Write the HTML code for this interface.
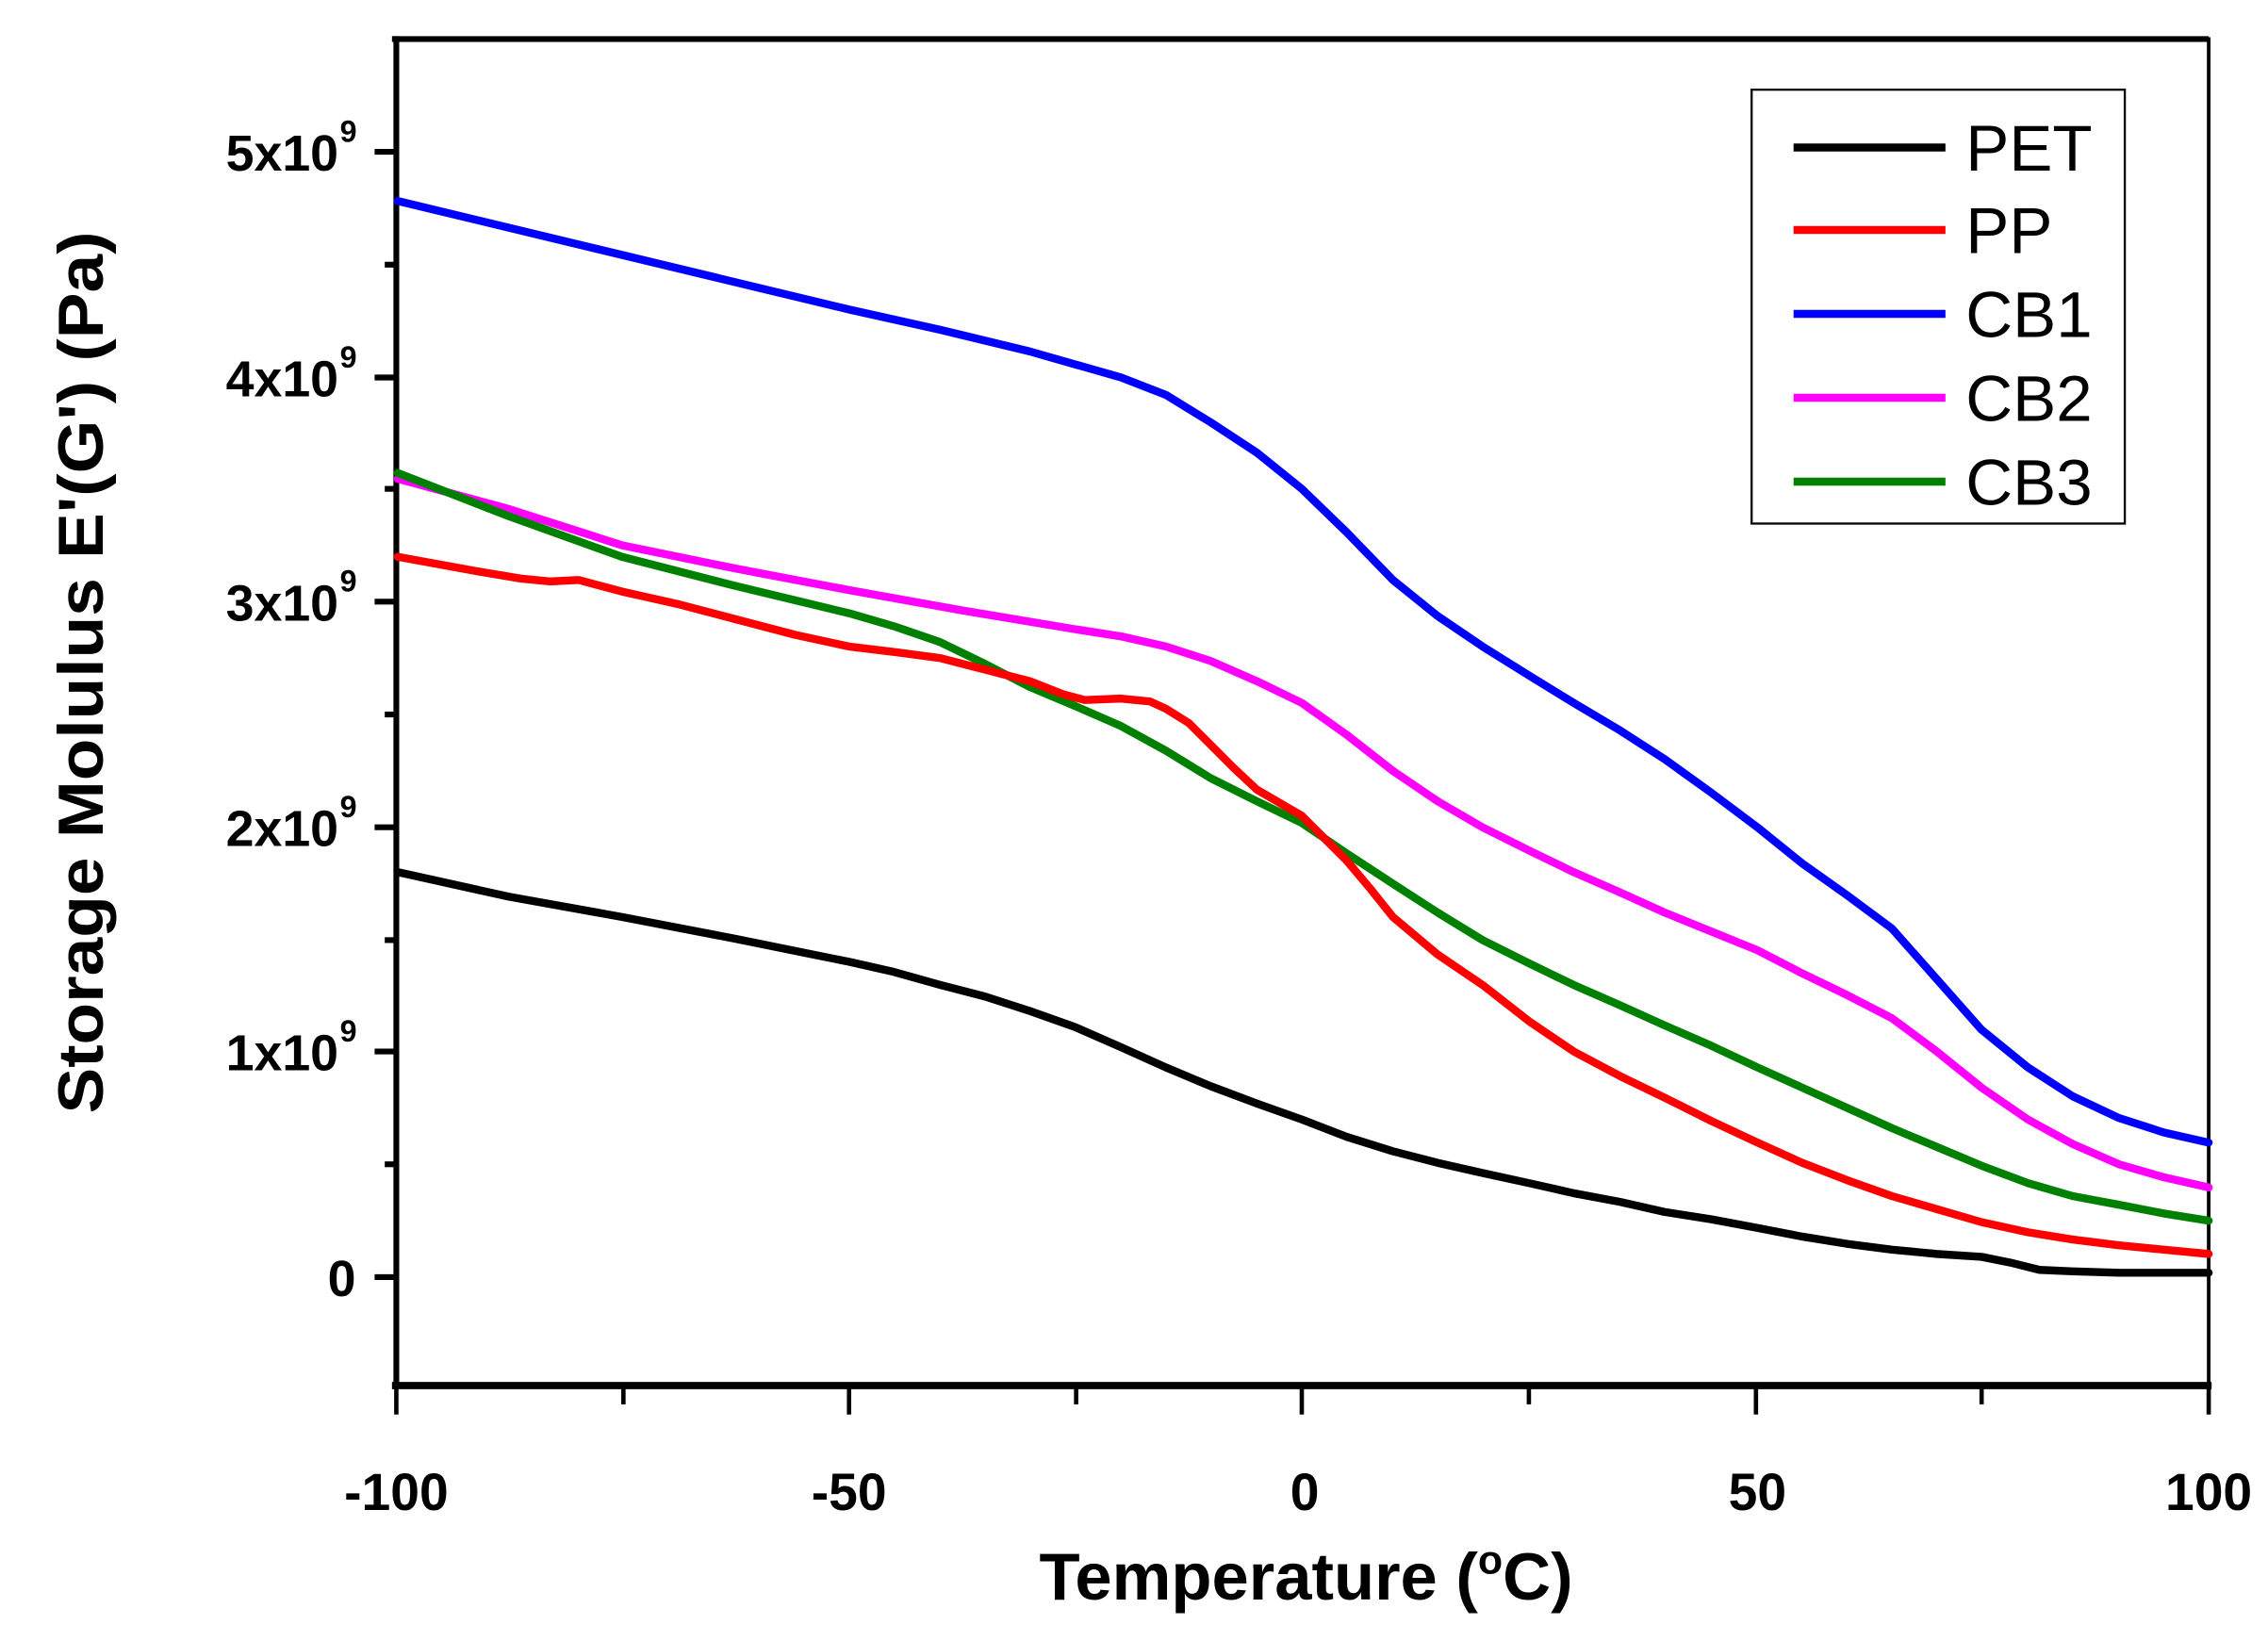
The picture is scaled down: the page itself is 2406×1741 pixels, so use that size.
<!DOCTYPE html>
<html><head><meta charset="utf-8"><style>html,body{margin:0;padding:0;background:#fff}svg{display:block}</style></head>
<body>
<svg width="2406" height="1741" viewBox="0 0 1568 1134.6" preserveAspectRatio="none" xmlns="http://www.w3.org/2000/svg" font-family="Liberation Sans, Arial, sans-serif" font-weight="bold">
<rect width="1568" height="1134.6" fill="#fff"/>
<rect x="274" y="27" width="1253" height="931" fill="none" stroke="#000" stroke-width="2.5"/>
<line x1="271" y1="27" x2="1527" y2="27" stroke="#000" stroke-width="4"/>
<line x1="274" y1="25" x2="274" y2="960" stroke="#000" stroke-width="4"/>
<line x1="271" y1="958" x2="1529" y2="958" stroke="#000" stroke-width="5"/>
<g stroke="#000" stroke-width="4">
<line x1="259" y1="105" x2="274" y2="105"/><line x1="259" y1="261" x2="274" y2="261"/><line x1="259" y1="416" x2="274" y2="416"/><line x1="259" y1="572" x2="274" y2="572"/><line x1="259" y1="727" x2="274" y2="727"/><line x1="259" y1="883" x2="274" y2="883"/>
<line x1="266" y1="183" x2="274" y2="183"/><line x1="266" y1="338" x2="274" y2="338"/><line x1="266" y1="494" x2="274" y2="494"/><line x1="266" y1="650" x2="274" y2="650"/><line x1="266" y1="805" x2="274" y2="805"/>
</g>
<g stroke="#000" stroke-width="3">
<line x1="274" y1="958" x2="274" y2="978"/><line x1="587" y1="958" x2="587" y2="978"/><line x1="900" y1="958" x2="900" y2="978"/><line x1="1214" y1="958" x2="1214" y2="978"/><line x1="1527" y1="958" x2="1527" y2="978"/>
<line x1="431" y1="958" x2="431" y2="971"/><line x1="744" y1="958" x2="744" y2="971"/><line x1="1057" y1="958" x2="1057" y2="971"/><line x1="1370" y1="958" x2="1370" y2="971"/>
</g>
<g font-size="35" text-anchor="end">
<text x="234" y="118">5x10</text><text x="234" y="274">4x10</text><text x="234" y="429">3x10</text><text x="234" y="585">2x10</text><text x="234" y="740">1x10</text><text x="246" y="896">0</text>
</g>
<g font-size="21">
<text x="235" y="98">9</text><text x="235" y="254">9</text><text x="235" y="409">9</text><text x="235" y="565">9</text><text x="235" y="720">9</text>
</g>
<g font-size="36" text-anchor="middle">
<text x="274" y="1044">-100</text><text x="587" y="1044">-50</text><text x="902" y="1044">0</text><text x="1215" y="1044">50</text><text x="1527" y="1044">100</text>
</g>
<text x="903" y="1106" font-size="46" text-anchor="middle">Temperature (<tspan font-size="28" dy="-18">o</tspan><tspan dy="18">C)</tspan></text>
<text transform="translate(71,465) rotate(-90)" font-size="44" text-anchor="middle" textLength="610" lengthAdjust="spacingAndGlyphs">Storage Molulus E'(G') (Pa)</text>
<g fill="none" stroke-width="5.5" stroke-linejoin="round" stroke-linecap="round">
<polyline stroke="#0000ff" points="275,139 587,214 650,228 712,243 775,261 806,273 837,292 869,313 900,338 931,368 963,401 994,426 1025,447 1057,467 1088,486 1120,505 1151,525 1183,548 1215,572 1246,597 1277,619 1308,642 1339,677 1370,712 1402,738 1433,758 1465,773 1496,783 1527,790"/>
<polyline stroke="#ff00ff" points="275,331 352,352 430,377 508,393 587,408 665,422 743,435 775,440 806,447 837,457 869,471 900,486 931,508 963,533 994,554 1025,572 1057,588 1088,603 1120,617 1151,631 1183,644 1215,657 1246,673 1277,688 1308,704 1339,727 1370,752 1402,774 1433,791 1465,805 1496,814 1527,821"/>
<polyline stroke="#008000" points="275,327 352,357 430,385 508,405 587,424 618,433 650,444 681,459 712,475 743,488 775,502 806,519 837,538 869,554 900,569 931,590 963,611 994,631 1025,650 1057,666 1088,681 1120,695 1151,709 1183,723 1215,738 1246,752 1277,766 1308,780 1339,793 1370,806 1402,818 1433,827 1465,833 1496,839 1527,844"/>
<polyline stroke="#ff0000" points="275,385 330,395 360,400 380,402 400,401 430,409 470,418 508,428 550,439 587,447 620,451 650,455 681,463 712,471 735,480 750,484 775,483 795,485 806,490 822,500 837,515 853,531 869,546 900,564 916,580 931,595 947,614 963,634 994,660 1025,681 1057,706 1088,727 1120,744 1151,759 1183,775 1215,790 1246,804 1277,816 1308,827 1339,836 1370,845 1402,852 1433,857 1465,861 1496,864 1527,867"/>
<polyline stroke="#000000" points="275,603 352,620 430,634 508,649 587,665 618,672 650,681 681,689 712,699 743,710 775,724 806,738 837,751 869,763 900,774 931,786 963,796 994,804 1025,811 1057,818 1088,825 1120,831 1151,838 1183,843 1215,849 1246,855 1277,860 1308,864 1339,867 1370,869 1390,873 1410,878 1433,879 1465,880 1527,880"/>
</g>
<rect x="1211" y="62" width="258" height="300" fill="#fff" stroke="#000" stroke-width="1.5"/>
<g stroke-width="5.5">
<line x1="1240" y1="102" x2="1345" y2="102" stroke="#000"/>
<line x1="1240" y1="159" x2="1345" y2="159" stroke="#ff0000"/>
<line x1="1240" y1="217" x2="1345" y2="217" stroke="#0000ff"/>
<line x1="1240" y1="275" x2="1345" y2="275" stroke="#ff00ff"/>
<line x1="1240" y1="333" x2="1345" y2="333" stroke="#008000"/>
</g>
<g font-size="45" font-weight="normal">
<text x="1359" y="118">PET</text><text x="1359" y="175">PP</text><text x="1359" y="233">CB1</text><text x="1359" y="291">CB2</text><text x="1359" y="349">CB3</text>
</g>
</svg>
</body></html>
